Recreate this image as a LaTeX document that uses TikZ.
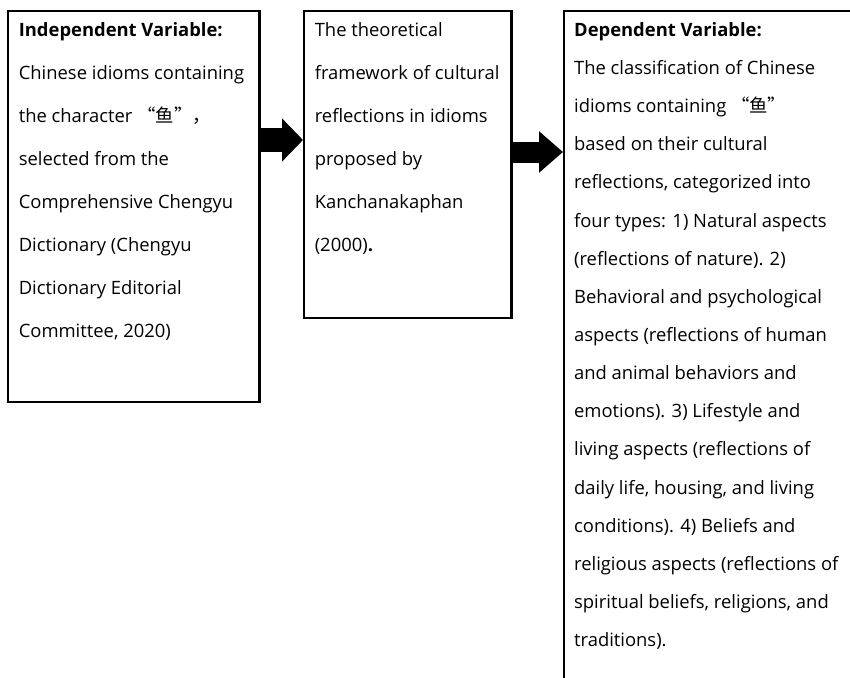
\documentclass[tikz,border=0pt]{standalone}
\usepackage{fontspec}
\setmainfont{Open Sans}
\newfontfamily\cjk{Noto Sans CJK SC}
\usetikzlibrary{arrows.meta}

\newcommand{\boxtext}[3]{\parbox[t][#2][t]{#1}{#3}}

\tikzset{
    var box/.style={
        draw,line width=1.7pt,
        anchor=north west,
        inner xsep=8pt,inner ysep=8.5pt,
        align=left
    },
    wide/.style={font=\fontsize{13.8}{32.25}\selectfont},
    narrow/.style={font=\fontsize{13.8}{28.6}\selectfont}
}

\begin{document}
\begin{tikzpicture}[x=0.75pt,y=-0.75pt]
    \useasboundingbox (0,0) rectangle (850,678);
    \node[var box,wide] (indep) at (7,10) {\boxtext{172.5pt}{276pt}{%
        \textbf{Independent Variable:}\\
        Chinese idioms containing\\
        the character {\cjk “鱼”，}\\
        selected from the\\
        Comprehensive Chengyu\\
        Dictionary (Chengyu\\
        Dictionary Editorial\\
        Committee, 2020)}};
    \node[var box,wide] (frame) at (303,10) {\boxtext{139.5pt}{213pt}{%
        The theoretical\\
        framework of cultural\\
        reflections in idioms\\
        proposed by\\
        Kanchanakaphan\\
        (2000)\textbf{.}}};
    \node[var box,narrow,inner xsep=7.5pt] (dep) at (563,10) {\boxtext{210pt}{505pt}{%
        \textbf{Dependent Variable:}\\
        The classification of Chinese\\
        idioms containing {\cjk “鱼”}\\
        based on their cultural\\
        reflections, categorized into\\
        four types: 1) Natural aspects\\
        (reflections of nature). 2)\\
        Behavioral and psychological\\
        aspects (reflections of human\\
        and animal behaviors and\\
        emotions). 3) Lifestyle and\\
        living aspects (reflections of\\
        daily life, housing, and living\\
        conditions). 4) Beliefs and\\
        religious aspects (reflections of\\
        spiritual beliefs, religions, and\\
        traditions).}};
    % arrows between the boxes
    \coordinate (a1) at (0,140);
    \coordinate (a2) at (0,152);
    \draw[line width=18pt,-{Triangle[length=15.75pt,width=31.5pt]}] (indep.east |- a1) -- (frame.west |- a1);
    \draw[line width=15.75pt,-{Triangle[length=18pt,width=30pt]}] (frame.east |- a2) -- (dep.west |- a2);
\end{tikzpicture}
\end{document}
